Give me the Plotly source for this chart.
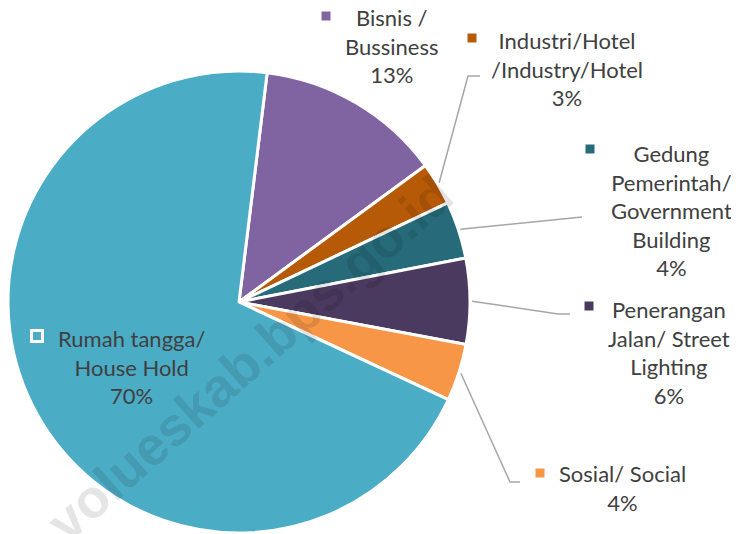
import math
import plotly.graph_objects as go

W, H = 739, 534
OFF = 8  # page body margin offset

categories = ["Bisnis /<br>Bussiness", "Industri/Hotel<br>/Industry/Hotel",
              "Gedung<br>Pemerintah/<br>Government<br>Building",
              "Penerangan<br>Jalan/ Street<br>Lighting",
              "Sosial/ Social", "Rumah tangga/<br>House Hold"]
values = [13, 3, 4, 6, 4, 70]
colors = ["#8064A2", "#B75A08", "#276B7A", "#4B3A60", "#F79646", "#4BACC6"]

# layout (screen pixels)
cx, cy, R = 239, 302, 231
ROT = 7
label_pos = [(392, 46), (567, 69), (671, 210), (669, 352), (622, 488), (131, 367)]
marker_pos = [(326, 16), (472, 38), (590, 149), (589, 306), (540, 473), (37, 336)]
leader = [None, [(468, 76), (480, 76)], [(582, 217)], [(558, 314), (570, 314)],
          [(510, 482), (520, 482)], None]


def fx(x):
    return (x - OFF) / W


def fy(y):
    return 1 - (y - OFF) / H


fig = go.Figure(go.Pie(
    labels=[c.replace("<br>", " ") for c in categories], values=values, sort=False,
    direction="clockwise", rotation=ROT,
    marker=dict(colors=colors, line=dict(color="white", width=3)),
    textinfo="none", hoverinfo="label+percent", showlegend=False,
    domain=dict(x=[fx(cx - R), fx(cx + R)], y=[fy(cy + R), fy(cy - R)]),
))

total = sum(values)
shapes = []
annotations = []
cum = 0
for i, v in enumerate(values):
    mid = math.radians(ROT + 360 * (cum + v / 2) / total)
    cum += v
    pct = round(100 * v / total)
    lx, ly = label_pos[i]
    annotations.append(dict(x=fx(lx), y=fy(ly), xref="paper", yref="paper",
                            text=f"{categories[i]}<br>{pct}%",
                            showarrow=False, xanchor="center", yanchor="middle",
                            font=dict(family="Lato", size=22, color="#404040")))
    mx, my = marker_pos[i]
    if i == len(values) - 1:
        s = 5.5
        shapes.append(dict(type="rect", xref="paper", yref="paper",
                           x0=fx(mx - s), x1=fx(mx + s), y0=fy(my + s), y1=fy(my - s),
                           line=dict(color="white", width=3), fillcolor="rgba(0,0,0,0)"))
    else:
        s = 4.5
        shapes.append(dict(type="rect", xref="paper", yref="paper",
                           x0=fx(mx - s), x1=fx(mx + s), y0=fy(my + s), y1=fy(my - s),
                           line=dict(width=0), fillcolor=colors[i]))
    if leader[i]:
        sx = cx + (R + 2) * math.sin(mid)
        sy = cy - (R + 2) * math.cos(mid)
        pts = [(sx, sy)] + leader[i]
        path = "M " + " L ".join(f"{fx(x)},{fy(y)}" for x, y in pts)
        shapes.append(dict(type="path", xref="paper", yref="paper", path=path,
                           line=dict(color="#A6A6A6", width=1.5)))

# watermark
annotations.append(dict(x=fx(250), y=fy(358), xref="paper", yref="paper",
                        text="<b>volueskab.bps.go.id</b>", showarrow=False, textangle=-41.5,
                        xanchor="center", yanchor="middle",
                        font=dict(family="Liberation Sans", size=54, color="rgba(0,0,0,0.1)")))

fig.update_layout(width=W, height=H, margin=dict(l=0, r=0, t=0, b=0),
                  paper_bgcolor="white", plot_bgcolor="white",
                  shapes=shapes, annotations=annotations)
fig.write_html("out.html")
